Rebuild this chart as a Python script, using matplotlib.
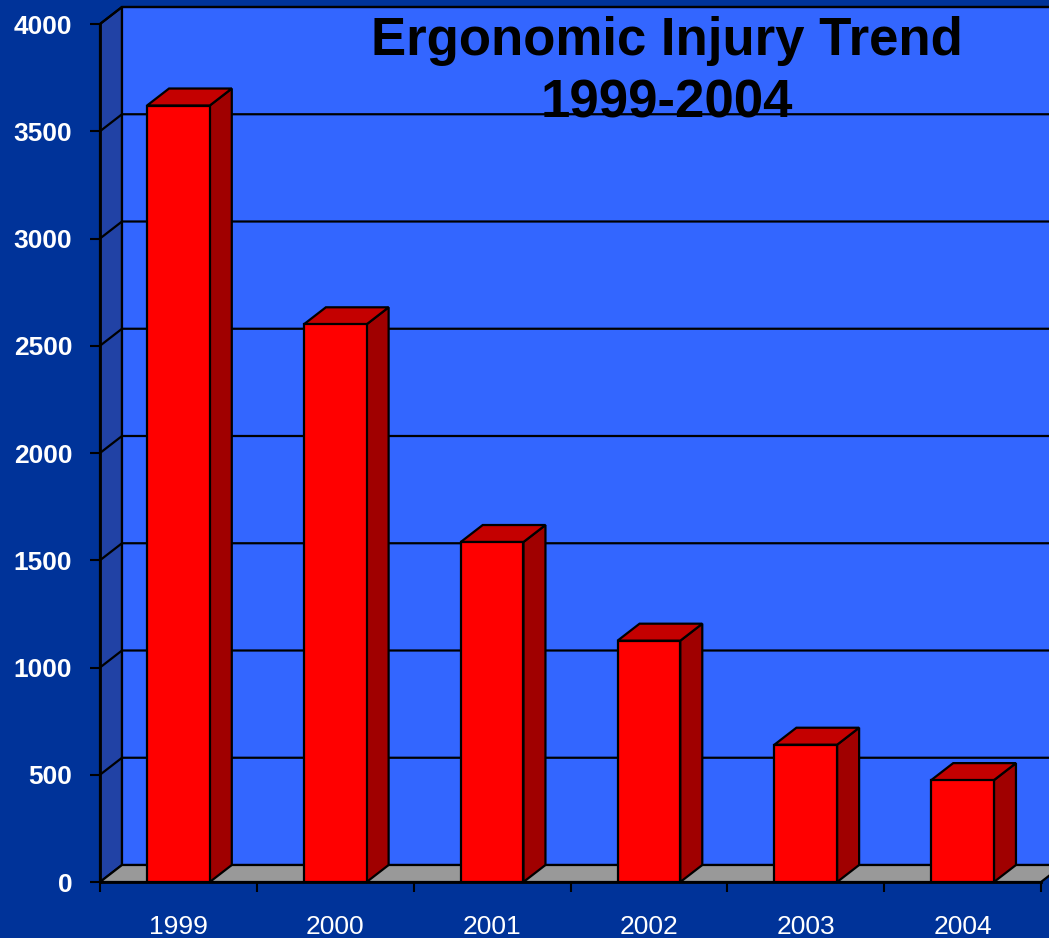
import matplotlib
matplotlib.use("Agg")
import matplotlib.pyplot as plt
from matplotlib.patches import Polygon, Rectangle

# data
years = ["1999", "2000", "2001", "2002", "2003", "2004"]
injuries = [3620, 2600, 1585, 1125, 640, 475]
yticks = [0, 500, 1000, 1500, 2000, 2500, 3000, 3500, 4000]

BG = "#003399"
WALL = "#3366FF"
SIDEWALL = "#2142A5"
FLOOR = "#999999"
FRONT = "#FF0000"
TOP = "#C40000"
SIDE = "#A00000"

W, H = 1049, 938
fig = plt.figure(figsize=(W / 100, H / 100), dpi=100, facecolor=BG)
ax = fig.add_axes([100 / W, 56 / H, 941 / W, 858 / H])
ax.set_facecolor("none")

n = len(years)
ymax = 4000
ax.set_xlim(0, n)
ax.set_ylim(0, ymax)

# depth offsets of the fake 3d (in data units)
dx = 22 / (941 / n)
dy = 17 * ymax / 858

# left side wall and back wall
ax.add_patch(Polygon([(0, 0), (dx, dy), (dx, ymax + dy), (0, ymax)], closed=True,
                     facecolor=SIDEWALL, edgecolor="black", lw=1.6, clip_on=False, zorder=1))
ax.add_patch(Polygon([(dx, dy), (n + dx, dy), (n + dx, ymax + dy), (dx, ymax + dy)], closed=True,
                     facecolor=WALL, edgecolor="black", lw=1.6, clip_on=False, zorder=1))

# gridlines over side wall and back wall
for v in yticks[1:]:
    ax.plot([0, dx, n + dx], [v, v + dy, v + dy], color="black", lw=1.6,
            clip_on=False, zorder=2)

# floor
ax.add_patch(Polygon([(0, 0), (n, 0), (n + dx, dy), (dx, dy)], closed=True,
                     facecolor=FLOOR, edgecolor="black", lw=1.6, clip_on=False, zorder=3))

# bars
bw = 0.4
for i, v in enumerate(injuries):
    x0 = i + 0.5 - bw / 2
    x1 = x0 + bw
    ax.add_patch(Polygon([(x1, 0), (x1 + dx, dy), (x1 + dx, v + dy), (x1, v)], closed=True,
                         facecolor=SIDE, edgecolor="black", lw=1.6, clip_on=False, zorder=4))
    ax.add_patch(Polygon([(x0, v), (x1, v), (x1 + dx, v + dy), (x0 + dx, v + dy)], closed=True,
                         facecolor=TOP, edgecolor="black", lw=1.6, clip_on=False, zorder=4))
    ax.add_patch(Rectangle((x0, 0), bw, v, facecolor=FRONT, edgecolor="black", lw=1.6,
                           clip_on=False, zorder=5))

# axes
for s in ["top", "right"]:
    ax.spines[s].set_visible(False)
for s in ["left", "bottom"]:
    ax.spines[s].set_color("black")
    ax.spines[s].set_linewidth(2)
    ax.spines[s].set_zorder(6)

ax.set_yticks(yticks)
ax.set_yticklabels([str(t) for t in yticks], color="white", fontweight="bold",
                   fontsize=19, family="Liberation Sans")
ax.tick_params(axis="y", length=7, width=1.5, color="black", pad=13)

ax.set_xticks(range(n + 1))
ax.set_xticklabels([])
ax.tick_params(axis="x", which="major", length=7, width=1.5, color="black", direction="out")
ax.set_xticks([i + 0.5 for i in range(n)], minor=True)
ax.set_xticklabels(years, minor=True, color="white", fontsize=19, family="Liberation Sans")
ax.tick_params(axis="x", which="minor", length=0, pad=24)

# title
fig.text(667 / W, 1 - 55 / H, "Ergonomic Injury Trend", ha="center", va="baseline",
         fontsize=38, fontweight="bold", family="Liberation Sans", color="black")
fig.text(667 / W, 1 - 117 / H, "1999-2004", ha="center", va="baseline",
         fontsize=38, fontweight="bold", family="Liberation Sans", color="black")

fig.savefig("out.png", dpi=100, facecolor=BG)
